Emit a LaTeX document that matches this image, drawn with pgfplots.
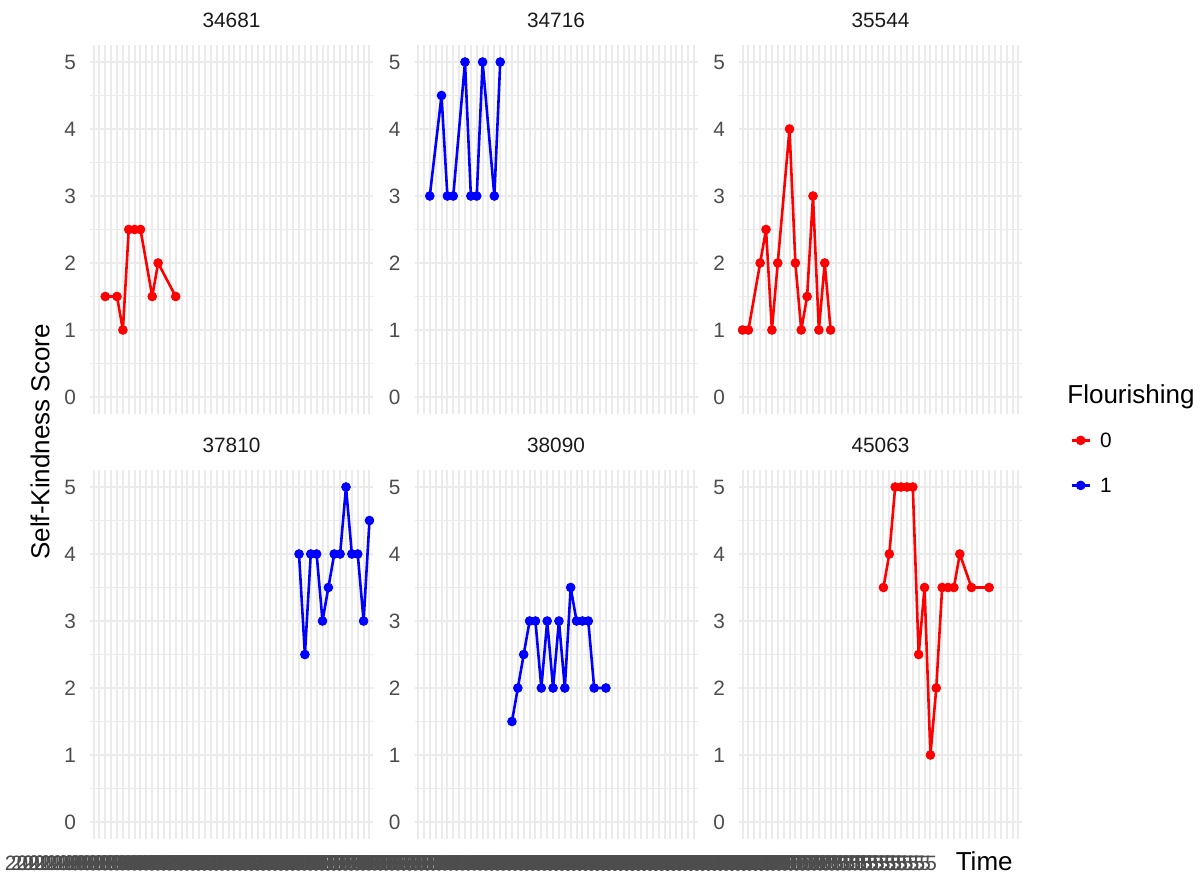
\documentclass[border=0pt]{standalone}
\usepackage{fontspec}
\setmainfont{Liberation Sans}
\usepackage{pgfplots}
\pgfplotsset{compat=1.18}
\definecolor{gridc}{HTML}{EBEBEB}
\definecolor{tickc}{HTML}{4D4D4D}
\definecolor{stripc}{HTML}{1A1A1A}
\newcommand{\tlab}{2021-05-05 15:55:55}
\pgfplotsset{
  panel/.style={
    at={#1}, anchor=south west, scale only axis,
    width=141.5pt, height=184.25pt,
    xmin=0.4, xmax=48.6, ymin=-0.25, ymax=5.25,
    xtick={1,...,48}, ytick={0,...,5}, minor ytick={0.5,1.5,...,4.5},
    grid=both,
    major grid style={gridc, line width=1pt},
    minor grid style={gridc, line width=0.5pt},
    axis line style={draw=none},
    major tick length=0pt, minor tick length=0pt,
    tick style={draw=none},
    /pgf/number format/assume math mode=true,
    yticklabel style={font=\fontsize{10.4}{12}\selectfont, text=tickc, anchor=east, xshift=-3.5pt},
    title style={at={(0.5,1)}, anchor=base, yshift=2.75pt, font=\fontsize{10.4}{12}\selectfont, text=stripc},
  },
  toprow/.style={xticklabels={}},
  botrow/.style={
    xticklabel={\tlab},
    xticklabel style={font=\fontsize{10.4}{12}\selectfont, text=tickc, anchor=base, yshift=-15.625pt},
  },
  rline/.style={color=red, line width=1.3pt, line join=round, mark=*, mark size=2.2pt, mark options={solid, fill=red, draw=red, line width=0.4pt}},
  bline/.style={color=blue, line width=1.3pt, line join=round, mark=*, mark size=2.2pt, mark options={solid, fill=blue, draw=blue, line width=0.4pt}},
}
\begin{document}
\begin{tikzpicture}
\useasboundingbox (0,0) rectangle (601.5pt,436.5pt);

\begin{axis}[panel={(45pt,229.625pt)}, toprow, title={34681}]
\addplot[rline] coordinates {(3,1.5)(5,1.5)(6,1)(7,2.5)(8,2.5)(9,2.5)(11,1.5)(12,2)(15,1.5)};
\end{axis}

\begin{axis}[panel={(207.25pt,229.625pt)}, toprow, title={34716}]
\addplot[bline] coordinates {(3,3)(5,4.5)(6,3)(7,3)(9,5)(10,3)(11,3)(12,5)(14,3)(15,5)};
\end{axis}

\begin{axis}[panel={(369.5pt,229.625pt)}, toprow, title={35544},
  legend style={at={(1.1696,-0.0517)}, anchor=north west, draw=none, fill=none,
    font=\fontsize{10.4}{12}\selectfont, row sep=15.3pt, inner sep=0pt,
    nodes={inner sep=0pt, text height=7.2pt, text depth=0pt},
    /tikz/every odd column/.style={column sep=4.6pt}},
  legend cell align=left,
  legend image code/.code={\draw[mark repeat=2,mark phase=2,#1] plot coordinates {(0pt,0pt)(4.5pt,0pt)(9pt,0pt)};}]
\addplot[rline] coordinates {(1,1)(2,1)(4,2)(5,2.5)(6,1)(7,2)(9,4)(10,2)(11,1)(12,1.5)(13,3)(14,1)(15,2)(16,1)};
\addlegendentry{0}
\addlegendimage{bline}
\addlegendentry{1}
\end{axis}

\begin{axis}[panel={(45pt,17.125pt)}, botrow, title={37810}, xticklabel style={xshift=4pt}]
\addplot[bline] coordinates {(36,4)(37,2.5)(38,4)(39,4)(40,3)(41,3.5)(42,4)(43,4)(44,5)(45,4)(46,4)(47,3)(48,4.5)};
\end{axis}

\begin{axis}[panel={(207.25pt,17.125pt)}, botrow, title={38090}]
\addplot[bline] coordinates {(17,1.5)(18,2)(19,2.5)(20,3)(21,3)(22,2)(23,3)(24,2)(25,3)(26,2)(27,3.5)(28,3)(29,3)(30,3)(31,2)(33,2)};
\end{axis}

\begin{axis}[panel={(369.5pt,17.125pt)}, botrow, title={45063}, xticklabel style={anchor=base east, xshift=-37.25pt}]
\addplot[rline] coordinates {(25,3.5)(26,4)(27,5)(28,5)(29,5)(30,5)(31,2.5)(32,3.5)(33,1)(34,2)(35,3.5)(36,3.5)(37,3.5)(38,4)(40,3.5)(43,3.5)};
\end{axis}

\node[rotate=90, font=\fontsize{13}{15}\selectfont, anchor=center] at (20pt,215.5pt) {Self-Kindness Score};
\node[anchor=base east, inner sep=0pt, font=\fontsize{13}{15}\selectfont] at (506.5pt,1.5pt) {Time};
\node[anchor=base west, inner sep=0pt, font=\fontsize{13}{15}\selectfont] at (533.5pt,234.7pt) {Flourishing};
\end{tikzpicture}
\end{document}
